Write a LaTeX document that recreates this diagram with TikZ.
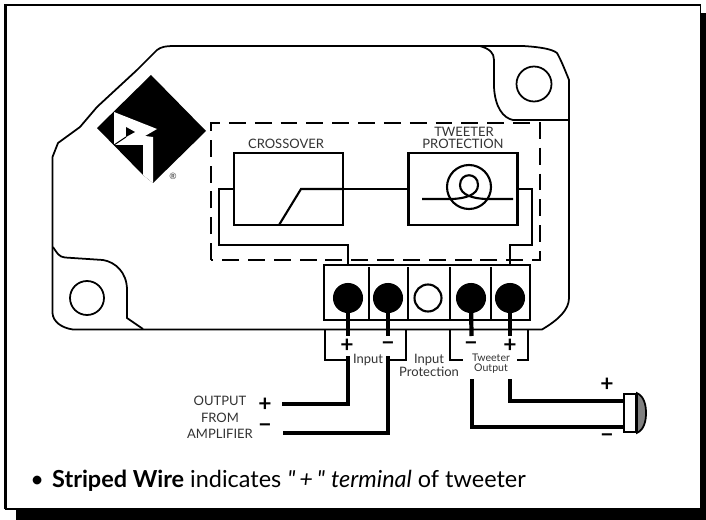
\documentclass[tikz,border=0pt]{standalone}
\usepackage{fontspec}
\setmainfont{Lato}
\newfontfamily\quotefont{Lato}

\tikzset{
  line/.style={line width=1pt},
  heavy/.style={line width=1.2pt},
  wire/.style={line width=2.8pt},
  stem/.style={line width=2.4pt},
  dashedbox/.style={line width=1.2pt, dash pattern=on 9.6pt off 5.1pt},
  box/.style={draw, line width=1.2pt, minimum width=2.18cm, minimum height=1.44cm, inner sep=0pt},
  termfull/.style={circle, draw, fill=black, line width=.6pt, minimum size=.58cm, inner sep=0pt},
  termopen/.style={circle, draw, fill=white, line width=1.2pt, minimum size=.54cm, inner sep=0pt},
  lbl/.style={font=\fontsize{7.4pt}{8pt}\selectfont, text=black!80, inner sep=0pt},
  smalllbl/.style={font=\fontsize{6pt}{7pt}\selectfont, text=black!80, inner sep=0pt},
  sign/.style={font=\fontsize{13pt}{13pt}\selectfont\bfseries, inner sep=0pt}
}

\begin{document}
\begin{tikzpicture}[x=0.02cm, y=-0.02cm]
\useasboundingbox (0,0) rectangle (706,520);

% Frame
\fill[black] (16,13) rectangle (706,520);
\fill[white] (5,5) rectangle (700.5,508.5);
\draw[line width=1.7pt] (5.5,509) |- (701,5);
\draw[line width=.8pt] (700.5,5) -- (700.5,509) -- (5,509);

% Board
\draw[line] (157,50) .. controls (161,47) and (165,46) .. (175,46) -- (523,46)
  .. controls (540,47) and (552,49) .. (557,53) .. controls (561,60) and (565,70) .. (569,80)
  -- (569,298) .. controls (569,310) and (558,320) .. (542,329.5) -- (73,329.5)
  .. controls (62,328) and (53,322) .. (52.5,313) -- (52.5,157) -- (58,143) -- (80,127)
  -- (97,107) -- (137,70) -- cycle;
\draw[line] (480,46) .. controls (490,49) and (494,53) .. (494,60) -- (494,87)
  .. controls (495,107) and (503,118) .. (513,120) -- (569,120);
\draw[line] (53,247) .. controls (57,253) and (59,257) .. (65,257.5) -- (103,260)
  .. controls (115,262) and (127,272) .. (127,290) -- (127,318) -- (143,329);

% Holes
\node[circle, draw, line width=1pt, minimum size=.7cm, inner sep=0pt] (holetop) at (534,84) {};
\node[circle, draw, line width=1pt, minimum size=.68cm, inner sep=0pt] (holebottom) at (87,298) {};

% Logo
\fill[black] (151,75) -- (206,131) -- (153,183) -- (143,175) -- (97,128) -- cycle;
\fill[white] (114,112) -- (157,129) -- (145,136) -- (153,137) -- (153,183) -- (143,175)
  -- (143,145) -- (114,145) -- cycle;
\fill[black] (126,127) -- (135,132) -- (126,137) -- cycle;
\draw[line width=.6pt] (114,145) -- (126,137);
\node[font=\fontsize{5pt}{6pt}\selectfont, text=black!80, inner sep=0pt] (regmark) at (173,176) {®};

% Dashed area
\draw[dashedbox] (211,260) |- (540,123) -- (540,260) -- cycle;

% Crossover and protection
\node[box] (crossover) at (288.5,189) {};
\node[box] (protection) at (463,189) {};
\node[lbl] (crossoverlabel) at (286,144) {CROSSOVER};
\node[lbl] (tweeterlabel) at (464,132) {TWEETER};
\node[lbl] (protectionlabel) at (463,144) {PROTECTION};
\draw[heavy] (crossover) -- (protection);
\draw[heavy] (279,225) -- (301,189) -- (crossover.east);

% Tweeter protection symbol
\node[circle, draw, line width=1.2pt, minimum size=.88cm, inner sep=0pt] (coil) at (469,187) {};
\draw[heavy] (422,199) -- (452,199) .. controls (465,198.5) and (478,195) .. (478,185)
  .. controls (478,172) and (460,172) .. (460,185)
  .. controls (460,195) and (473,198.5) .. (486,199) -- (513,199);

% Links to the block
\coordinate (linkin) at (348,265);
\coordinate (linkout) at (510,265);
\draw[heavy] (crossover.west) -| (219,245) -| (linkin);
\draw[heavy] (protection.east) -| (532,245) -| (linkout);

% Terminal block
\node[draw, fill=white, line width=1.4pt, minimum width=4.12cm, minimum height=1.1cm, inner sep=0pt] (block) at (427,292.5) {};
\draw[heavy] (369,267) -- (369,320);
\draw[heavy] (408,267) -- (408,320);
\draw[heavy] (450,267) -- (450,320);
\draw[heavy] (491,267) -- (491,320);

% Terminals
\node[termfull] (inplus) at (348,298) {};
\node[termfull] (inminus) at (388,298) {};
\node[termopen] (protect) at (428,298) {};
\node[termfull] (outminus) at (471,298) {};
\node[termfull] (outplus) at (510,298) {};

% Stems
\coordinate (inplusend) at (348,336);
\coordinate (inminusend) at (388,336);
\coordinate (outminusend) at (471.5,336);
\coordinate (outplusend) at (510,336);
\draw[stem] (inplus) -- (inplusend);
\draw[stem] (inminus) -- (inminusend);
\draw[stem] (outminus) -- (outminusend);
\draw[stem] (outplus) -- (outplusend);

% Brackets
\draw[line] (325,330) |- (347,360);
\draw[line] (406,330) |- (388,360);
\draw[line] (450,330) |- (463,360);
\draw[line] (528,330) |- (517,360);

% Signs
\node[sign] (signa) at (347,346) {+};
\node[sign] (signb) at (388,346) {−};
\node[sign] (signc) at (471,346) {−};
\node[sign] (signd) at (510,346) {+};
\node[sign] (signe) at (265,405) {+};
\node[sign] (signf) at (265,428) {−};
\node[sign] (signg) at (607,385) {+};
\node[sign] (signh) at (607,438) {−};

% Labels
\node[lbl] (inputlabel) at (368,360) {Input};
\node[lbl] (protectlabela) at (429,360) {Input};
\node[lbl] (protectlabelb) at (429,372) {Protection};
\node[smalllbl] (outlabela) at (491,358) {Tweeter};
\node[smalllbl] (outlabelb) at (491,369) {Output};
\node[lbl] (amplabela) at (220,401) {OUTPUT};
\node[lbl] (amplabelb) at (220,418) {FROM};
\node[lbl] (amplabelc) at (220,434) {AMPLIFIER};

% Tweeter
\node[draw, fill=white, line width=1pt, minimum width=.24cm, minimum height=.76cm, inner sep=0pt] (tweeter) at (630,413) {};
\draw[line, fill=black!50] (tweeter.north east) .. controls (644,396) and (646,405) .. (646,413)
  .. controls (646,421) and (644,430) .. (tweeter.south east) -- cycle;

% Wires
\coordinate (inplustop) at (348,356);
\coordinate (inminustop) at (388,356);
\coordinate (outminustop) at (472,379);
\coordinate (outplustop) at (510,379);
\coordinate (ampplus) at (282,404);
\coordinate (ampminus) at (283,433);
\coordinate (tweeterplus) at (625,401);
\coordinate (tweeterminus) at (625,427);
\draw[wire] (inplustop) |- (ampplus);
\draw[wire] (inminustop) |- (ampminus);
\draw[wire] (outminustop) |- (tweeterminus);
\draw[wire] (outplustop) |- (tweeterplus);

% Note
\node[font=\fontsize{13.35pt}{15pt}\selectfont, anchor=base west, inner sep=0pt] (note) at (30,487)
  {•\hspace{.35em}\textbf{Striped Wire} indicates {\quotefont\itshape "\,+\,"} \textit{terminal} of tweeter};

\end{tikzpicture}
\end{document}
